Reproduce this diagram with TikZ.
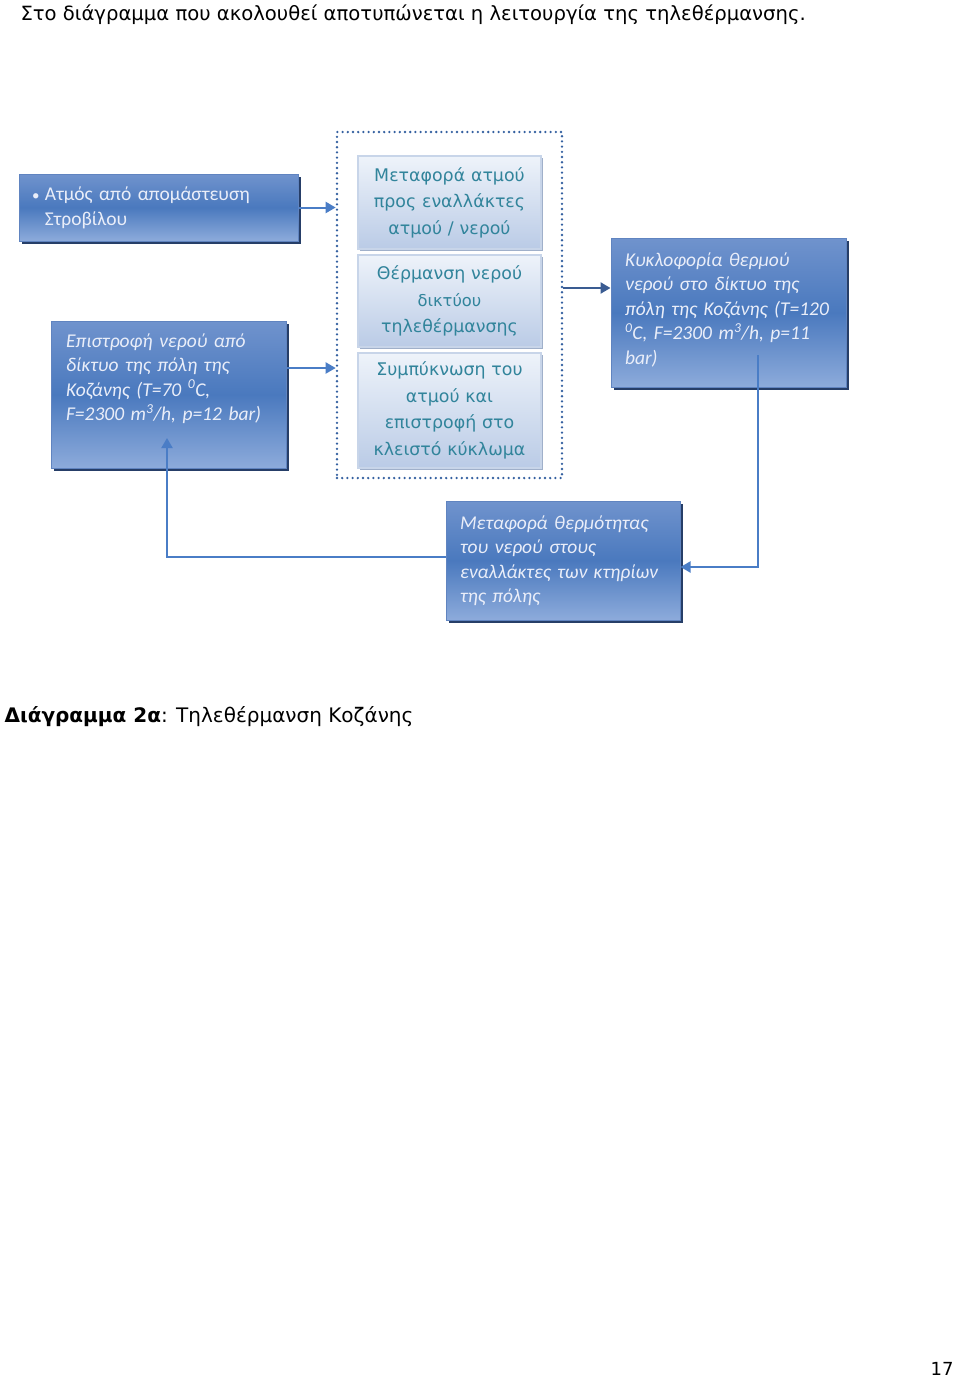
\documentclass[tikz,border=0pt]{standalone}
\usepackage{fontspec}
\setmainfont{DejaVu Sans}
\newfontfamily\calfont{Carlito}
\usetikzlibrary{arrows.meta,shadows}

\definecolor{boxtop}{RGB}{112,147,205}
\definecolor{boxmid}{RGB}{74,121,190}
\definecolor{boxbot}{RGB}{141,171,219}
\definecolor{boxline}{RGB}{96,132,192}
\definecolor{boxshade}{RGB}{38,62,104}
\definecolor{boxtext}{RGB}{234,238,249}
\definecolor{steptop}{RGB}{238,243,250}
\definecolor{stepbot}{RGB}{186,203,230}
\definecolor{stepline}{RGB}{200,213,233}
\definecolor{stepshade}{RGB}{160,176,202}
\definecolor{steptext}{RGB}{49,132,155}
\definecolor{linkblue}{RGB}{74,125,198}
\definecolor{linkdark}{RGB}{58,92,146}
\definecolor{dotblue}{RGB}{52,96,160}

\tikzset{
  bluebox/.style={rectangle, draw=boxline, line width=1pt,
    top color=boxtop, bottom color=boxbot, middle color=boxmid,
    drop shadow={shadow xshift=3pt, shadow yshift=-3pt, fill=boxshade, opacity=1},
    text=boxtext, align=left, inner sep=0pt,
    font=\calfont\itshape\fontsize{19.5}{24.5}\selectfont},
  stepbox/.style={rectangle, draw=stepline, line width=1.5pt,
    top color=steptop, bottom color=stepbot,
    drop shadow={shadow xshift=2pt, shadow yshift=-2pt, fill=stepshade, opacity=1},
    text=steptext, align=center, inner sep=0pt,
    minimum width=183pt, text width=175pt,
    font=\fontsize{17.4}{26.5}\selectfont},
  group/.style={rectangle, draw=dotblue, line width=2.6pt, line cap=round,
    dash pattern=on 0pt off 5.2pt},
  flow/.style={draw=linkblue, line width=2pt, -{Triangle[length=10pt,width=11pt]}},
  flowdark/.style={draw=linkdark, line width=2.4pt, -{Triangle[length=10pt,width=11pt]}}
}

\begin{document}
\begin{tikzpicture}[x=1pt,y=-1pt]
\useasboundingbox (0,0) rectangle (960,1377);

\node[anchor=base west, font=\fontsize{19.6}{23}\selectfont] (title) at (17,20)
  {Στο διάγραμμα που ακολουθεί αποτυπώνεται η λειτουργία της τηλεθέρμανσης.};

% left column
\node[bluebox, minimum width=279pt, minimum height=67pt, text width=253pt,
  font=\calfont\fontsize{19.5}{25}\selectfont] (stm) at (158.5,207.5)
  {\makebox[13pt][l]{\fontsize{15}{15}\selectfont•}Ατμός από απομάστευση\\\hspace*{13pt}Στροβίλου};
\node[bluebox, minimum width=235pt, minimum height=147pt, text width=205pt] (ret) at (168.5,394.5)
  {Επιστροφή νερού από\\δίκτυο της πόλη της\\Κοζάνης (T=70 \textsuperscript{0}C,\\F=2300 m\textsuperscript{3}/h, p=12 bar)\\[10pt]\mbox{}};

% middle steps
\node[group, minimum width=225pt, minimum height=346pt] (grp) at (449.5,305) {};
\node[stepbox, minimum height=93pt] (m1) at (449.5,202.5)
  {Μεταφορά ατμού\\προς εναλλάκτες\\ατμού / νερού};
\node[stepbox, minimum height=92pt] (m2) at (449.5,301)
  {Θέρμανση νερού\\{\fontsize{16.3}{26.5}\selectfont δικτύου}\\τηλεθέρμανσης};
\node[stepbox, minimum height=115pt] (m3) at (449.5,410.5)
  {Συμπύκνωση του\\ατμού και\\επιστροφή στο\\κλειστό κύκλωμα};

% right side
\node[bluebox, minimum width=235pt, minimum height=149pt, text width=207pt] (circ) at (728.5,312.5)
  {Κυκλοφορία θερμού\\νερού στο δίκτυο της\\πόλη της Κοζάνης (T=120\\\textsuperscript{0}C, F=2300 m\textsuperscript{3}/h, p=11\\bar)\\[-16pt]\mbox{}};
\node[bluebox, minimum width=234pt, minimum height=119pt, text width=206pt] (heat) at (563,560.5)
  {Μεταφορά θερμότητας\\του νερού στους\\εναλλάκτες των κτηρίων\\της πόλης};

\coordinate (cdn) at (758,355);
\coordinate (rup) at (167,438);

\draw[flow] (stm.east) -- (stm.east -| grp.west);
\draw[flow] ([yshift=26.5pt]ret.east) -- ([yshift=26.5pt]ret.east -| grp.west);
\draw[flowdark] ([yshift=24.5pt]circ.west -| grp.east) -- ([yshift=24.5pt]circ.west);
\draw[flow] (cdn) |- ([yshift=-6.5pt]heat.east);
\draw[flow] ([yshift=3.5pt]heat.west) -| (rup);

\node[anchor=base west, font=\fontsize{20}{24}\selectfont] (cap) at (1,722)
  {\textbf{Διάγραμμα 2α}: Τηλεθέρμανση Κοζάνης};
\node[anchor=base east, font=\fontsize{18}{22}\selectfont] (pg) at (957,1375) {17};
\end{tikzpicture}
\end{document}
